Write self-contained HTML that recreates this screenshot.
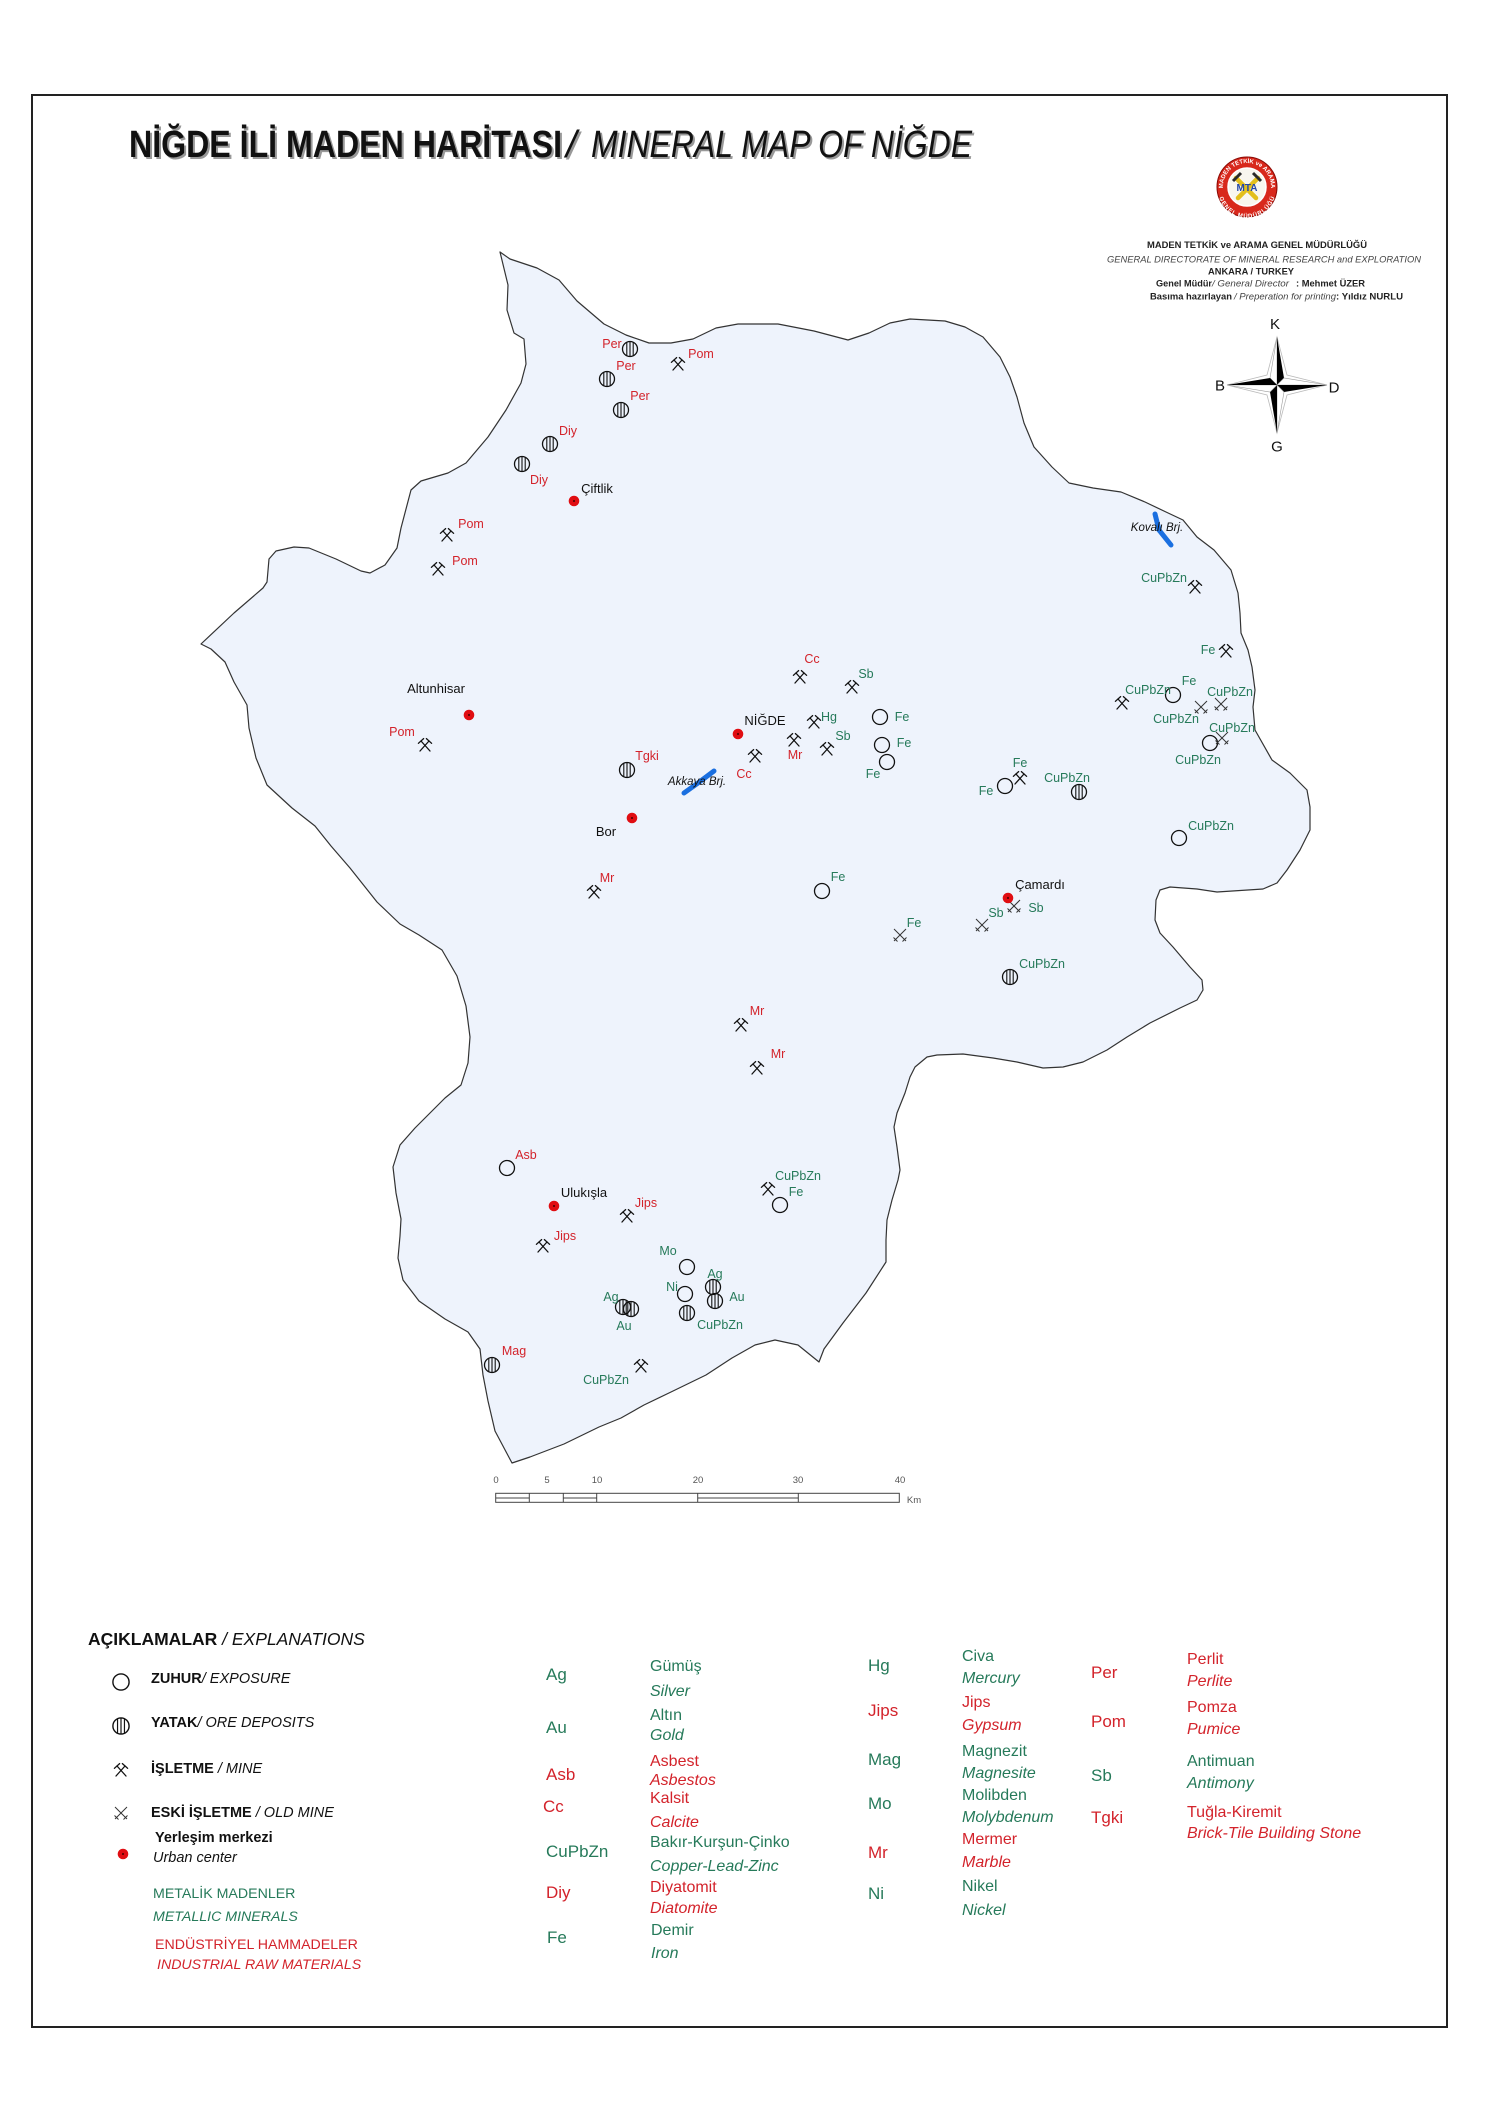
<!DOCTYPE html>
<html>
<head>
<meta charset="utf-8">
<style>
html,body{margin:0;padding:0;background:#fff}
svg{display:block}
.r{fill:#d3232b}
.g{fill:#267a5a}
.lbl{font-size:12.5px}
.twn{font-size:13px;fill:#111}
.hd{fill:#222}
.lg{font-size:14.5px;fill:#111}
.code{font-size:17px}
.nm{font-size:16px}
</style>
</head>
<body>
<svg width="1500" height="2122" viewBox="0 0 1500 2122" xmlns="http://www.w3.org/2000/svg" xmlns:xlink="http://www.w3.org/1999/xlink" font-family="'Liberation Sans', Arial, sans-serif">
<defs>
  <g id="mine" stroke="#111" stroke-width="1.3" fill="none" stroke-linecap="round">
    <line x1="-5" y1="6" x2="4" y2="-4"/>
    <line x1="5" y1="6" x2="-4" y2="-4"/>
    <line x1="1.4" y1="-6.4" x2="6.6" y2="-1.7"/>
    <line x1="-1.4" y1="-6.4" x2="-6.6" y2="-1.7"/>
  </g>
  <g id="old" stroke="#333" stroke-width="1" fill="none">
    <line x1="-6" y1="-6" x2="6" y2="6"/>
    <line x1="-6" y1="6" x2="6" y2="-6"/>
    <line x1="-6.5" y1="2.5" x2="-2.5" y2="6.5"/>
    <line x1="6.5" y1="2.5" x2="2.5" y2="6.5"/>
  </g>
  <g id="exp">
    <circle r="7.5" fill="none" stroke="#111" stroke-width="1.3"/>
  </g>
  <g id="yat" stroke="#111" fill="none">
    <circle r="7.5" stroke-width="1.3"/>
    <line x1="-3.2" y1="-6.7" x2="-3.2" y2="6.7" stroke-width="1.1"/>
    <line x1="0" y1="-7.5" x2="0" y2="7.5" stroke-width="1.1"/>
    <line x1="3.2" y1="-6.7" x2="3.2" y2="6.7" stroke-width="1.1"/>
  </g>
  <g id="town">
    <circle r="5.3" fill="#e00d12"/>
    <circle r="1" fill="#400"/>
  </g>
  <path id="ringTop" d="M -24,0 A 24,24 0 0,1 24,0"/>
  <path id="ringBot" d="M -24,2 A 24,24 0 0,0 24,2"/>
</defs>

<rect x="0" y="0" width="1500" height="2122" fill="#fff"/>
<!-- Frame -->
<rect x="32" y="95" width="1415" height="1932" fill="none" stroke="#222" stroke-width="2"/>

<!-- Title -->
<g font-size="38">
  <text x="131" y="159" font-weight="bold" fill="#999" textLength="433" lengthAdjust="spacingAndGlyphs">NİĞDE İLİ MADEN HARİTASI</text>
  <text x="568" y="159" font-style="italic" fill="#999">/</text>
  <text x="593" y="159" font-style="italic" fill="#999" textLength="381" lengthAdjust="spacingAndGlyphs">MINERAL MAP OF NİĞDE</text>
  <text x="129" y="157" font-weight="bold" fill="#111" textLength="433" lengthAdjust="spacingAndGlyphs">NİĞDE İLİ MADEN HARİTASI</text>
  <text x="566" y="157" font-style="italic" fill="#111">/</text>
  <text x="591" y="157" font-style="italic" fill="#111" textLength="381" lengthAdjust="spacingAndGlyphs">MINERAL MAP OF NİĞDE</text>
</g>

<!-- Logo -->
<g transform="translate(1247,187)">
  <circle r="30" fill="#d8281c" stroke="#8a0a05" stroke-width="1"/>
  <circle r="19" fill="#f8f6ee" stroke="#fff" stroke-width="1.5"/>
  <path d="M-11,-9 L9,11 M11,-9 L-9,11" stroke="#e3bf1c" stroke-width="4.5" stroke-linecap="round"/>
  <path d="M-14,-6 L-6,-14 M14,-6 L6,-14" stroke="#2b2b2b" stroke-width="3"/>
  <text x="0" y="4" text-anchor="middle" font-size="10" font-weight="bold" fill="#2347a8">MTA</text>
  <text font-size="6" font-weight="bold" fill="#fff"><textPath xlink:href="#ringTop" startOffset="50%" text-anchor="middle">MADEN TETKİK ve ARAMA</textPath></text>
  <text font-size="6" font-weight="bold" fill="#fff" dy="5"><textPath xlink:href="#ringBot" startOffset="50%" text-anchor="middle">GENEL MÜDÜRLÜĞÜ</textPath></text>
</g>

<!-- Header block -->
<g font-size="9.5" class="hd">
  <text x="1147" y="248" font-weight="bold" textLength="220" lengthAdjust="spacingAndGlyphs">MADEN TETKİK ve ARAMA GENEL MÜDÜRLÜĞÜ</text>
  <text x="1107" y="262.5" font-style="italic" fill="#444" textLength="314" lengthAdjust="spacingAndGlyphs">GENERAL DIRECTORATE OF MINERAL RESEARCH and EXPLORATION</text>
  <text x="1208" y="274.5" font-weight="bold" textLength="86" lengthAdjust="spacingAndGlyphs">ANKARA / TURKEY</text>
  <text x="1156" y="286.5" font-weight="bold" textLength="56" lengthAdjust="spacingAndGlyphs">Genel Müdür</text>
  <text x="1212" y="286.5" font-style="italic" fill="#444" textLength="77" lengthAdjust="spacingAndGlyphs">/ General Director</text>
  <text x="1296" y="286.5" font-weight="bold" textLength="69" lengthAdjust="spacingAndGlyphs">: Mehmet ÜZER</text>
  <text x="1150" y="299.5" font-weight="bold" textLength="82" lengthAdjust="spacingAndGlyphs">Basıma hazırlayan</text>
  <text x="1234" y="299.5" font-style="italic" fill="#444" textLength="102" lengthAdjust="spacingAndGlyphs">/ Preperation for printing</text>
  <text x="1336" y="299.5" font-weight="bold" textLength="67" lengthAdjust="spacingAndGlyphs">: Yıldız NURLU</text>
</g>

<!-- Compass -->
<g transform="translate(1277,385)">
  <polygon points="0,-48 10,-10 50,0 10,10 0,48 -10,10 -50,0 -10,-10" fill="#fff" stroke="#bbb" stroke-width="0.8"/>
  <polygon points="0,-48 -7,-7 0,0" fill="#fff" stroke="#999" stroke-width="0.6"/>
  <polygon points="0,-48 7,-7 0,0" fill="#000"/>
  <polygon points="50,0 7,-7 0,0" fill="#fff" stroke="#999" stroke-width="0.6"/>
  <polygon points="50,0 7,7 0,0" fill="#000"/>
  <polygon points="0,48 7,7 0,0" fill="#fff" stroke="#999" stroke-width="0.6"/>
  <polygon points="0,48 -7,7 0,0" fill="#000"/>
  <polygon points="-50,0 -7,7 0,0" fill="#fff" stroke="#999" stroke-width="0.6"/>
  <polygon points="-50,0 -7,-7 0,0" fill="#000"/>
  <g font-size="15" fill="#111" text-anchor="middle">
    <text x="-2" y="-56">K</text>
    <text x="-57" y="5.5">B</text>
    <text x="57" y="7.5">D</text>
    <text x="0" y="66.5">G</text>
  </g>
</g>

<!-- Map outline -->
<path d="M500,252 L510,259 537,268 559,280 577,301 604,324 626,335 649,343 671,343 693,339 716,328 738,324 778,324 814,331 848,340 869,333 890,323 910,319 945,321 965,327 983,337 1000,357 1010,377 1017,397 1024,423 1034,447 1052,467 1069,483 1093,488 1121,492 1145,502 1166,512 1183,520 1197,537 1214,550 1231,570 1238,593 1240,613 1241,633 1248,650 1252,667 1255,690 1253,707 1255,730 1272,760 1290,773 1307,790 1310,807 1310,830 1300,850 1287,870 1277,883 1263,889 1217,892 1197,889 1170,887 1160,890 1156,900 1155,920 1160,933 1173,947 1190,967 1202,980 1203,990 1197,1000 1180,1008 1150,1023 1127,1037 1107,1050 1083,1062 1063,1067 1043,1068 1017,1062 993,1058 963,1054 937,1055 927,1057 915,1067 910,1077 905,1093 897,1113 894,1127 897,1147 900,1170 898,1180 892,1200 887,1220 886,1240 886,1262 866,1293 843,1323 824,1349 819,1362 798,1345 775,1340 755,1345 732,1358 706,1375 671,1392 644,1405 621,1418 599,1427 564,1444 530,1457 512,1463 495,1431 488,1401 483,1375 480,1349 468,1332 445,1319 419,1301 403,1280 398,1258 400,1236 401,1219 396,1193 393,1167 400,1145 415,1128 445,1098 461,1085 468,1063 470,1037 466,1006 457,976 442,950 419,935 400,924 377,902 350,868 331,846 315,826 292,808 267,785 256,758 249,728 247,705 234,682 225,662 211,649 201,644 234,613 263,588 267,582 269,559 276,551 294,547 309,548 336,559 361,571 370,573 385,565 397,548 401,528 411,490 421,481 448,473 466,463 488,437 506,410 521,383 526,364 524,339 514,333 507,310 508,285 Z" fill="#eef3fc" stroke="#333" stroke-width="1.2" stroke-linejoin="round"/>

<!-- Reservoirs -->
<path d="M684,793 L698,783 L714,771" stroke="#1a6fe0" stroke-width="5" fill="none" stroke-linecap="round"/>
<path d="M1155,514 L1159,530 L1171,545" stroke="#1a6fe0" stroke-width="5" fill="none" stroke-linecap="round"/>
<text x="697" y="785" text-anchor="middle" font-size="11.5" font-style="italic" fill="#111">Akkaya Brj.</text>
<text x="1157" y="531" text-anchor="middle" font-size="11.5" font-style="italic" fill="#111">Kovalı Brj.</text>

<!-- Yatak symbols -->
<use xlink:href="#yat" x="630" y="349"/>
<use xlink:href="#yat" x="607" y="379"/>
<use xlink:href="#yat" x="621" y="410"/>
<use xlink:href="#yat" x="550" y="444"/>
<use xlink:href="#yat" x="522" y="464"/>
<use xlink:href="#yat" x="627" y="770"/>
<use xlink:href="#yat" x="1079" y="792"/>
<use xlink:href="#yat" x="1010" y="977"/>
<use xlink:href="#yat" x="713" y="1287"/>
<use xlink:href="#yat" x="715" y="1301"/>
<use xlink:href="#yat" x="687" y="1313"/>
<use xlink:href="#yat" x="623" y="1307"/>
<use xlink:href="#yat" x="631" y="1309"/>
<use xlink:href="#yat" x="492" y="1365"/>

<!-- Exposure circles -->
<use xlink:href="#exp" x="1173" y="695"/>
<use xlink:href="#exp" x="1210" y="743"/>
<use xlink:href="#exp" x="1179" y="838"/>
<use xlink:href="#exp" x="1005" y="786"/>
<use xlink:href="#exp" x="880" y="717"/>
<use xlink:href="#exp" x="882" y="745"/>
<use xlink:href="#exp" x="887" y="762"/>
<use xlink:href="#exp" x="822" y="891"/>
<use xlink:href="#exp" x="507" y="1168"/>
<use xlink:href="#exp" x="780" y="1205"/>
<use xlink:href="#exp" x="687" y="1267"/>
<use xlink:href="#exp" x="685" y="1294"/>

<!-- Mines -->
<use xlink:href="#mine" x="678" y="364"/>
<use xlink:href="#mine" x="447" y="535"/>
<use xlink:href="#mine" x="438" y="569"/>
<use xlink:href="#mine" x="425" y="745"/>
<use xlink:href="#mine" x="755" y="756"/>
<use xlink:href="#mine" x="800" y="677"/>
<use xlink:href="#mine" x="852" y="687"/>
<use xlink:href="#mine" x="814" y="722"/>
<use xlink:href="#mine" x="794" y="740"/>
<use xlink:href="#mine" x="827" y="749"/>
<use xlink:href="#mine" x="1195" y="587"/>
<use xlink:href="#mine" x="1226" y="651"/>
<use xlink:href="#mine" x="1122" y="703"/>
<use xlink:href="#mine" x="1020" y="778"/>
<use xlink:href="#mine" x="594" y="892"/>
<use xlink:href="#mine" x="741" y="1025"/>
<use xlink:href="#mine" x="757" y="1068"/>
<use xlink:href="#mine" x="627" y="1216"/>
<use xlink:href="#mine" x="543" y="1246"/>
<use xlink:href="#mine" x="768" y="1189"/>
<use xlink:href="#mine" x="641" y="1366"/>

<!-- Old mines -->
<use xlink:href="#old" x="1201" y="707"/>
<use xlink:href="#old" x="1221" y="704"/>
<use xlink:href="#old" x="1222" y="738"/>
<use xlink:href="#old" x="1014" y="906"/>
<use xlink:href="#old" x="982" y="925"/>
<use xlink:href="#old" x="900" y="935"/>

<!-- Towns -->
<use xlink:href="#town" x="574" y="501"/>
<use xlink:href="#town" x="469" y="715"/>
<use xlink:href="#town" x="738" y="734"/>
<use xlink:href="#town" x="632" y="818"/>
<use xlink:href="#town" x="1008" y="898"/>
<use xlink:href="#town" x="554" y="1206"/>
<g class="twn" text-anchor="middle">
  <text x="597" y="493">Çiftlik</text>
  <text x="436" y="693">Altunhisar</text>
  <text x="765" y="725">NİĞDE</text>
  <text x="606" y="836">Bor</text>
  <text x="1040" y="889">Çamardı</text>
  <text x="584" y="1197">Ulukışla</text>
</g>

<!-- Red labels -->
<g class="lbl r" text-anchor="middle">
  <text x="612" y="348">Per</text>
  <text x="626" y="370">Per</text>
  <text x="640" y="400">Per</text>
  <text x="568" y="435">Diy</text>
  <text x="539" y="484">Diy</text>
  <text x="701" y="358">Pom</text>
  <text x="471" y="528">Pom</text>
  <text x="465" y="565">Pom</text>
  <text x="402" y="736">Pom</text>
  <text x="647" y="760">Tgki</text>
  <text x="744" y="778">Cc</text>
  <text x="812" y="663">Cc</text>
  <text x="795" y="759">Mr</text>
  <text x="607" y="882">Mr</text>
  <text x="757" y="1015">Mr</text>
  <text x="778" y="1058">Mr</text>
  <text x="526" y="1159">Asb</text>
  <text x="646" y="1207">Jips</text>
  <text x="565" y="1240">Jips</text>
  <text x="514" y="1355">Mag</text>
</g>

<!-- Green labels -->
<g class="lbl g" text-anchor="middle">
  <text x="866" y="678">Sb</text>
  <text x="829" y="721">Hg</text>
  <text x="843" y="740">Sb</text>
  <text x="1164" y="582">CuPbZn</text>
  <text x="1208" y="654">Fe</text>
  <text x="1189" y="685">Fe</text>
  <text x="1148" y="694">CuPbZn</text>
  <text x="1230" y="696">CuPbZn</text>
  <text x="1176" y="723">CuPbZn</text>
  <text x="1232" y="732">CuPbZn</text>
  <text x="1198" y="764">CuPbZn</text>
  <text x="1211" y="830">CuPbZn</text>
  <text x="1020" y="767">Fe</text>
  <text x="986" y="795">Fe</text>
  <text x="1067" y="782">CuPbZn</text>
  <text x="902" y="721">Fe</text>
  <text x="904" y="747">Fe</text>
  <text x="873" y="778">Fe</text>
  <text x="838" y="881">Fe</text>
  <text x="914" y="927">Fe</text>
  <text x="1036" y="912">Sb</text>
  <text x="996" y="917">Sb</text>
  <text x="1042" y="968">CuPbZn</text>
  <text x="798" y="1180">CuPbZn</text>
  <text x="796" y="1196">Fe</text>
  <text x="668" y="1255">Mo</text>
  <text x="672" y="1291">Ni</text>
  <text x="715" y="1278">Ag</text>
  <text x="737" y="1301">Au</text>
  <text x="720" y="1329">CuPbZn</text>
  <text x="611" y="1301">Ag</text>
  <text x="624" y="1330">Au</text>
  <text x="606" y="1384">CuPbZn</text>
</g>

<!-- Scale bar -->
<g font-size="9.5" fill="#555" text-anchor="middle">
  <text x="496" y="1483">0</text>
  <text x="547" y="1483">5</text>
  <text x="597" y="1483">10</text>
  <text x="698" y="1483">20</text>
  <text x="798" y="1483">30</text>
  <text x="900" y="1483">40</text>
  <text x="914" y="1503">Km</text>
</g>
<g stroke="#444" stroke-width="1" fill="none">
  <rect x="495.7" y="1493.3" width="403.6" height="9" fill="#fff"/>
  <line x1="529.3" y1="1493.3" x2="529.3" y2="1502.3"/>
  <line x1="563.3" y1="1493.3" x2="563.3" y2="1502.3"/>
  <line x1="596.7" y1="1493.3" x2="596.7" y2="1502.3"/>
  <line x1="697.7" y1="1493.3" x2="697.7" y2="1502.3"/>
  <line x1="798.3" y1="1493.3" x2="798.3" y2="1502.3"/>
  <line x1="495.7" y1="1498" x2="529.3" y2="1498"/>
  <line x1="563.3" y1="1498" x2="596.7" y2="1498"/>
  <line x1="697.7" y1="1498" x2="798.3" y2="1498"/>
</g>

<!-- Legend left -->
<text x="88" y="1645" font-size="17.5" fill="#111"><tspan font-weight="bold">AÇIKLAMALAR</tspan><tspan font-style="italic"> / EXPLANATIONS</tspan></text>
<g transform="translate(121,1682) scale(1.08)"><circle r="7.5" fill="none" stroke="#111" stroke-width="1.3"/></g>
<g transform="translate(121,1726) scale(1.08)"><use xlink:href="#yat"/></g>
<use xlink:href="#mine" x="121" y="1770"/>
<use xlink:href="#old" x="121" y="1813"/>
<use xlink:href="#town" x="123" y="1854"/>
<g class="lg">
  <text x="151" y="1683"><tspan font-weight="bold">ZUHUR</tspan><tspan font-style="italic">/ EXPOSURE</tspan></text>
  <text x="151" y="1727"><tspan font-weight="bold">YATAK</tspan><tspan font-style="italic">/ ORE DEPOSITS</tspan></text>
  <text x="151" y="1773"><tspan font-weight="bold">İŞLETME</tspan><tspan font-style="italic"> / MINE</tspan></text>
  <text x="151" y="1817"><tspan font-weight="bold">ESKİ İŞLETME</tspan><tspan font-style="italic"> / OLD MINE</tspan></text>
  <text x="155" y="1842" font-weight="bold">Yerleşim merkezi</text>
  <text x="153" y="1862" font-style="italic">Urban center</text>
</g>
<g font-size="14.2">
  <text x="153" y="1898" class="g">METALİK MADENLER</text>
  <text x="153" y="1921" class="g" font-style="italic">METALLIC MINERALS</text>
  <text x="155" y="1949" class="r">ENDÜSTRİYEL HAMMADELER</text>
  <text x="157" y="1969" class="r" font-style="italic">INDUSTRIAL RAW MATERIALS</text>
</g>

<!-- Legend codes col1 -->
<g class="code">
  <text x="546" y="1680" class="g">Ag</text>
  <text x="546" y="1733" class="g">Au</text>
  <text x="546" y="1780" class="r">Asb</text>
  <text x="543" y="1812" class="r">Cc</text>
  <text x="546" y="1857" class="g">CuPbZn</text>
  <text x="546" y="1898" class="r">Diy</text>
  <text x="547" y="1943" class="g">Fe</text>
</g>
<g class="nm">
  <text x="650" y="1671" class="g">Gümüş</text>
  <text x="650" y="1696" class="g" font-style="italic">Silver</text>
  <text x="650" y="1720" class="g">Altın</text>
  <text x="650" y="1740" class="g" font-style="italic">Gold</text>
  <text x="650" y="1766" class="r">Asbest</text>
  <text x="650" y="1785" class="r" font-style="italic">Asbestos</text>
  <text x="650" y="1803" class="r">Kalsit</text>
  <text x="650" y="1827" class="r" font-style="italic">Calcite</text>
  <text x="650" y="1847" class="g">Bakır-Kurşun-Çinko</text>
  <text x="650" y="1871" class="g" font-style="italic">Copper-Lead-Zinc</text>
  <text x="650" y="1892" class="r">Diyatomit</text>
  <text x="650" y="1913" class="r" font-style="italic">Diatomite</text>
  <text x="651" y="1935" class="g">Demir</text>
  <text x="651" y="1958" class="g" font-style="italic">Iron</text>
</g>

<!-- Legend col3/4 -->
<g class="code">
  <text x="868" y="1671" class="g">Hg</text>
  <text x="868" y="1716" class="r">Jips</text>
  <text x="868" y="1765" class="g">Mag</text>
  <text x="868" y="1809" class="g">Mo</text>
  <text x="868" y="1858" class="r">Mr</text>
  <text x="868" y="1899" class="g">Ni</text>
</g>
<g class="nm">
  <text x="962" y="1661" class="g">Civa</text>
  <text x="962" y="1683" class="g" font-style="italic">Mercury</text>
  <text x="962" y="1707" class="r">Jips</text>
  <text x="962" y="1730" class="r" font-style="italic">Gypsum</text>
  <text x="962" y="1756" class="g">Magnezit</text>
  <text x="962" y="1778" class="g" font-style="italic">Magnesite</text>
  <text x="962" y="1800" class="g">Molibden</text>
  <text x="962" y="1822" class="g" font-style="italic">Molybdenum</text>
  <text x="962" y="1844" class="r">Mermer</text>
  <text x="962" y="1867" class="r" font-style="italic">Marble</text>
  <text x="962" y="1891" class="g">Nikel</text>
  <text x="962" y="1915" class="g" font-style="italic">Nickel</text>
</g>

<!-- Legend col5/6 -->
<g class="code">
  <text x="1091" y="1678" class="r">Per</text>
  <text x="1091" y="1727" class="r">Pom</text>
  <text x="1091" y="1781" class="g">Sb</text>
  <text x="1091" y="1823" class="r">Tgki</text>
</g>
<g class="nm">
  <text x="1187" y="1664" class="r">Perlit</text>
  <text x="1187" y="1686" class="r" font-style="italic">Perlite</text>
  <text x="1187" y="1712" class="r">Pomza</text>
  <text x="1187" y="1734" class="r" font-style="italic">Pumice</text>
  <text x="1187" y="1766" class="g">Antimuan</text>
  <text x="1187" y="1788" class="g" font-style="italic">Antimony</text>
  <text x="1187" y="1817" class="r">Tuğla-Kiremit</text>
  <text x="1187" y="1838" class="r" font-style="italic">Brick-Tile Building Stone</text>
</g>
</svg>
</body>
</html>
